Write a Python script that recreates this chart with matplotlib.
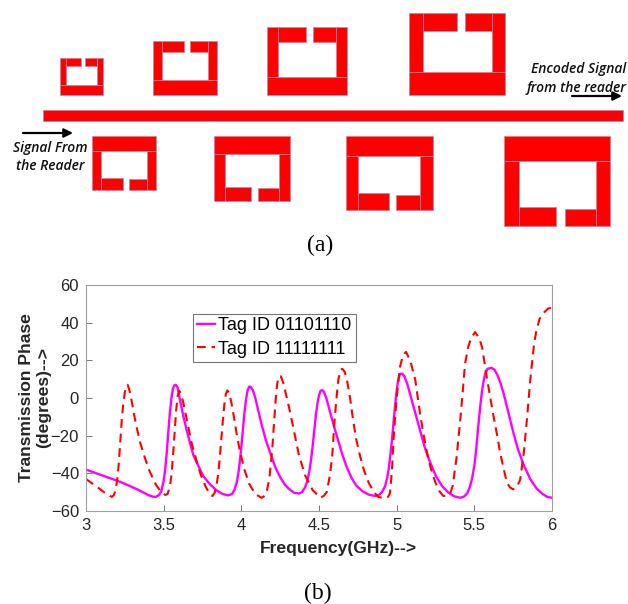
import matplotlib
matplotlib.use("Agg")
import matplotlib.pyplot as plt
from matplotlib.patches import Rectangle

# frequency (GHz) / phase (degrees)
freq_a = [3.0, 3.1, 3.22, 3.33, 3.4, 3.43, 3.45, 3.47, 3.485, 3.50, 3.51, 3.52, 3.53, 3.54, 3.55, 3.56, 3.568, 3.578, 3.59, 3.605,
          3.625, 3.648, 3.67, 3.69, 3.72, 3.755, 3.80, 3.84, 3.88, 3.916, 3.94, 3.955, 3.97, 3.98, 3.99, 4.0, 4.01, 4.02, 4.03, 4.04,
          4.05, 4.06, 4.075, 4.09, 4.11, 4.13, 4.16, 4.19, 4.22, 4.25, 4.28, 4.31, 4.34, 4.372, 4.39, 4.41, 4.425, 4.44, 4.45, 4.46,
          4.47, 4.48, 4.49, 4.50, 4.51, 4.52, 4.53, 4.545, 4.56, 4.58, 4.6, 4.625, 4.65, 4.68, 4.71, 4.74, 4.78, 4.82, 4.86, 4.885,
          4.905, 4.925, 4.94, 4.95, 4.96, 4.97, 4.98, 4.99, 5.0, 5.01, 5.02, 5.035, 5.05, 5.07, 5.09, 5.12, 5.15, 5.18, 5.21, 5.25,
          5.29, 5.33, 5.37, 5.41, 5.435, 5.455, 5.47, 5.485, 5.5, 5.51, 5.52, 5.53, 5.54, 5.55, 5.56, 5.57, 5.585, 5.61, 5.63, 5.65,
          5.67, 5.69, 5.72, 5.75, 5.78, 5.82, 5.86, 5.9, 5.94, 5.97, 6.0]
phase_a = [-38, -41, -44.5, -48.5, -51.5, -52.4, -52.5, -51.5, -49.5, -44, -38, -29, -18, -8, 0, 5, 6.7, 7, 5.5, -1,
           -9, -17, -24, -30, -35.5, -41.5, -46, -49, -51, -51.7, -51, -49, -45, -40.5, -34, -26, -17, -8, -1, 4,
           6, 6, 4, 0, -7, -14, -23, -30, -37, -42, -46, -48.5, -50.3, -50.7, -50, -47.5, -44, -38, -32, -25,
           -17, -9, -3, 1.5, 3.8, 4.2, 3.5, 0.5, -4, -10, -16, -23, -30, -37, -42.5, -46.5, -49.5, -51.3, -52, -51.5,
           -50, -47, -42, -37, -30, -22, -13, -4, 4, 9.5, 12.5, 13, 11.5, 7, 1, -8, -17, -26, -33, -41,
           -46.5, -50, -52.2, -53, -52.3, -50.5, -47.5, -43, -36, -29, -20, -11, -3, 4, 9, 13, 15.5, 16, 15, 12,
           7.5, 2, -8, -18, -27, -36, -43, -48, -51, -52.5, -53]

freq_b = [3.0, 3.05, 3.1, 3.14, 3.167, 3.18, 3.19, 3.2, 3.21, 3.22, 3.23, 3.24, 3.25, 3.26, 3.268, 3.28, 3.295, 3.31, 3.33, 3.35,
          3.38, 3.41, 3.45, 3.48, 3.51, 3.525, 3.54, 3.55, 3.56, 3.57, 3.58, 3.59, 3.6, 3.61, 3.625, 3.64, 3.66, 3.68, 3.71, 3.74,
          3.77, 3.80, 3.815, 3.83, 3.84, 3.85, 3.86, 3.87, 3.88, 3.89, 3.9, 3.91, 3.92, 3.935, 3.95, 3.97, 3.99, 4.02, 4.05, 4.09,
          4.13, 4.15, 4.165, 4.18, 4.19, 4.2, 4.21, 4.22, 4.23, 4.24, 4.255, 4.27, 4.29, 4.31, 4.34, 4.37, 4.41, 4.46, 4.51, 4.53,
          4.55, 4.57, 4.585, 4.6, 4.615, 4.625, 4.64, 4.65, 4.665, 4.68, 4.70, 4.72, 4.74, 4.765, 4.79, 4.82, 4.85, 4.88, 4.925, 4.945,
          4.957, 4.97, 4.98, 4.99, 5.0, 5.02, 5.04, 5.06, 5.087, 5.12, 5.15, 5.17, 5.195, 5.22, 5.25, 5.275, 5.30, 5.325, 5.345, 5.36,
          5.385, 5.408, 5.425, 5.44, 5.46, 5.48, 5.505, 5.53, 5.55, 5.58, 5.62, 5.645, 5.666, 5.69, 5.71, 5.73, 5.75, 5.775, 5.795, 5.82,
          5.84, 5.86, 5.885, 5.9, 5.92, 5.95, 5.975, 6.0]
phase_b = [-43, -46, -49, -51.5, -52.5, -51.5, -49, -44, -36, -24, -12, -3, 3, 6.5, 7, 4, -2, -9, -17, -24,
           -32, -39, -46, -49.5, -51.5, -51, -47, -41, -31, -19, -7, 1, 3.8, 2.5, -2, -8, -16, -24, -33, -41,
           -47, -51.5, -52, -50, -46.5, -41, -33, -23, -13, -4, 2, 4, 3, -2, -9, -19, -28, -38, -45.5, -51,
           -53, -52, -49, -43, -35, -26, -14, -2, 7, 11.5, 11.5, 8, 1, -6, -18, -30, -41, -49, -53, -52,
           -50, -41, -31, -12, 2, 10, 15, 15.5, 14, 9.5, 0, -12, -22, -31, -38.5, -45, -49.5, -52.5, -53.3, -52.5,
           -50.5, -38, -22, -10, 0, 16, 22.5, 24.5, 20, 9.5, -8, -18, -29, -37.5, -45, -49.5, -52, -52, -50.5, -47,
           -32, -13, 3, 18, 27, 32, 35, 32, 27, 11, -8, -19, -29, -38, -45, -47.5, -48.5, -47, -43.5, -28,
           -10, 9.5, 29, 36, 42, 45.5, 47.5, 48]

x_ticks = [3, 3.5, 4, 4.5, 5, 5.5, 6]
x_ticklabels = ["3", "3.5", "4", "4.5", "5", "5.5", "6"]
y_ticks = [-60, -40, -20, 0, 20, 40, 60]

# resonator pieces in picture pixels: x0, x1, y0, y1
feed_line = (43.3, 623, 109.5, 121)
resonators = [
    [(59.5, 65.5, 58, 85), (59.5, 103, 85, 95), (65.5, 80.5, 58, 66), (84.5, 96.5, 58, 66), (96.5, 103, 58, 85)],
    [(152.5, 161.5, 40.5, 80), (152.5, 217, 80, 95), (161.5, 184, 40.5, 52), (190, 208, 40.5, 52), (208, 217, 40.5, 80)],
    [(266.5, 277.5, 27, 76.5), (266.5, 346.5, 76.5, 95), (277.5, 305.5, 27, 41.5), (312.5, 335.5, 27, 41.5), (335.5, 346.5, 27, 76.5)],
    [(408.7, 422.7, 12.5, 72), (408.7, 505.3, 72, 95), (422.7, 456.7, 12.5, 30.5), (464.7, 492, 12.5, 30.5), (492, 505.3, 12.5, 72)],
    [(91.5, 156, 135.5, 150.5), (91.5, 100.5, 150.5, 190), (100.5, 123, 178, 190), (128.5, 147, 179, 190), (147, 156, 150.5, 190)],
    [(213.5, 289.5, 135.5, 153.5), (213.5, 224.5, 153.5, 200.5), (224.5, 251, 186.5, 200.5), (257.5, 279, 187.5, 200.5), (279, 289.5, 153.5, 200.5)],
    [(345.7, 432.7, 135.5, 156), (345.7, 358.3, 156, 209.5), (358.3, 388.5, 193, 209.5), (396, 420.3, 194.5, 209.5), (420.3, 432.7, 156, 209.5)],
    [(503.7, 610.3, 135.5, 160.5), (503.7, 518.7, 160.5, 226.3), (518.7, 556, 206.5, 226.3), (565.3, 595.7, 208.5, 226.3), (595.7, 610.3, 160.5, 226.3)],
]

fig = plt.figure(figsize=(6.28, 6.04), dpi=100)

# top part, drawn in picture pixels
top = fig.add_axes([0, 0, 1, 1])
top.set_xlim(0, 628)
top.set_ylim(604, 0)
top.axis("off")

def draw_piece(piece):
    x0, x1, y0, y1 = piece
    top.add_patch(Rectangle((x0, y0), x1 - x0, y1 - y0, facecolor="#fe0000", edgecolor="#a58fb0", linewidth=0.5))

draw_piece(feed_line)
for res in resonators:
    for piece in res:
        draw_piece(piece)

def draw_arrow(x0, x1, y):
    top.annotate("", xy=(x1, y), xytext=(x0, y),
                 arrowprops=dict(arrowstyle="-|>", color="black", lw=1.6, mutation_scale=13, shrinkA=0, shrinkB=0))

label_style = dict(family="Open Sans", style="italic", fontweight="semibold", fontsize=10, color="#111111", va="center")
top.text(50, 148, "Signal From", ha="center", **label_style)
top.text(50, 166, "the Reader", ha="center", **label_style)
top.text(626, 69, "Encoded Signal", ha="right", **label_style)
top.text(626, 88, "from the reader", ha="right", **label_style)
draw_arrow(23, 73, 133)
draw_arrow(572, 622, 96)
top.text(320, 245, "(a)", family="Liberation Serif", fontsize=17, ha="center", va="center")
top.text(318, 593, "(b)", family="Liberation Serif", fontsize=17, ha="center", va="center")

# phase plot
ax = fig.add_axes([86 / 628, 1 - 511 / 604, 466 / 628, 226 / 604])
ax.plot(freq_a, phase_a, color="#ff00ff", lw=1.7, label="Tag ID 01101110", solid_joinstyle="round")
ax.plot(freq_b, phase_b, color="#ff0000", lw=1.5, dashes=(4.2, 2.8), label="Tag ID 11111111")
ax.set_xlim(3, 6)
ax.set_ylim(-60, 60)
ax.set_xticks(x_ticks)
ax.set_xticklabels(x_ticklabels)
ax.set_yticks(y_ticks)
ax.tick_params(direction="in", length=4, width=0.7, color="#777777", labelcolor="#262626", labelsize=12, pad=5)
for s in ax.spines.values():
    s.set_color("#a0a0a0")
    s.set_linewidth(0.8)

font_family = "Liberation Sans"
for lab in ax.get_xticklabels() + ax.get_yticklabels():
    lab.set_family(font_family)

top.text(338, 548, "Frequency(GHz)-->", family=font_family, fontweight="bold", fontsize=12.6, color="#262626", ha="center", va="center")
top.text(35, 398, "Transmission Phase\n(degrees)-->", family=font_family, fontweight="bold", fontsize=12.6, color="#262626",
         rotation=90, ha="center", va="center", linespacing=1.15)

leg = ax.legend(loc="upper left", bbox_to_anchor=((192.7 - 86) / 466, (511 - 313.5) / 226), borderaxespad=0, fancybox=False,
                framealpha=1, edgecolor="#777777", prop={"family": font_family, "size": 13}, handlelength=1.0,
                handletextpad=0.2, labelspacing=0.35, borderpad=0.22)
leg.get_frame().set_linewidth(0.8)

fig.savefig("out.png", dpi=100)
